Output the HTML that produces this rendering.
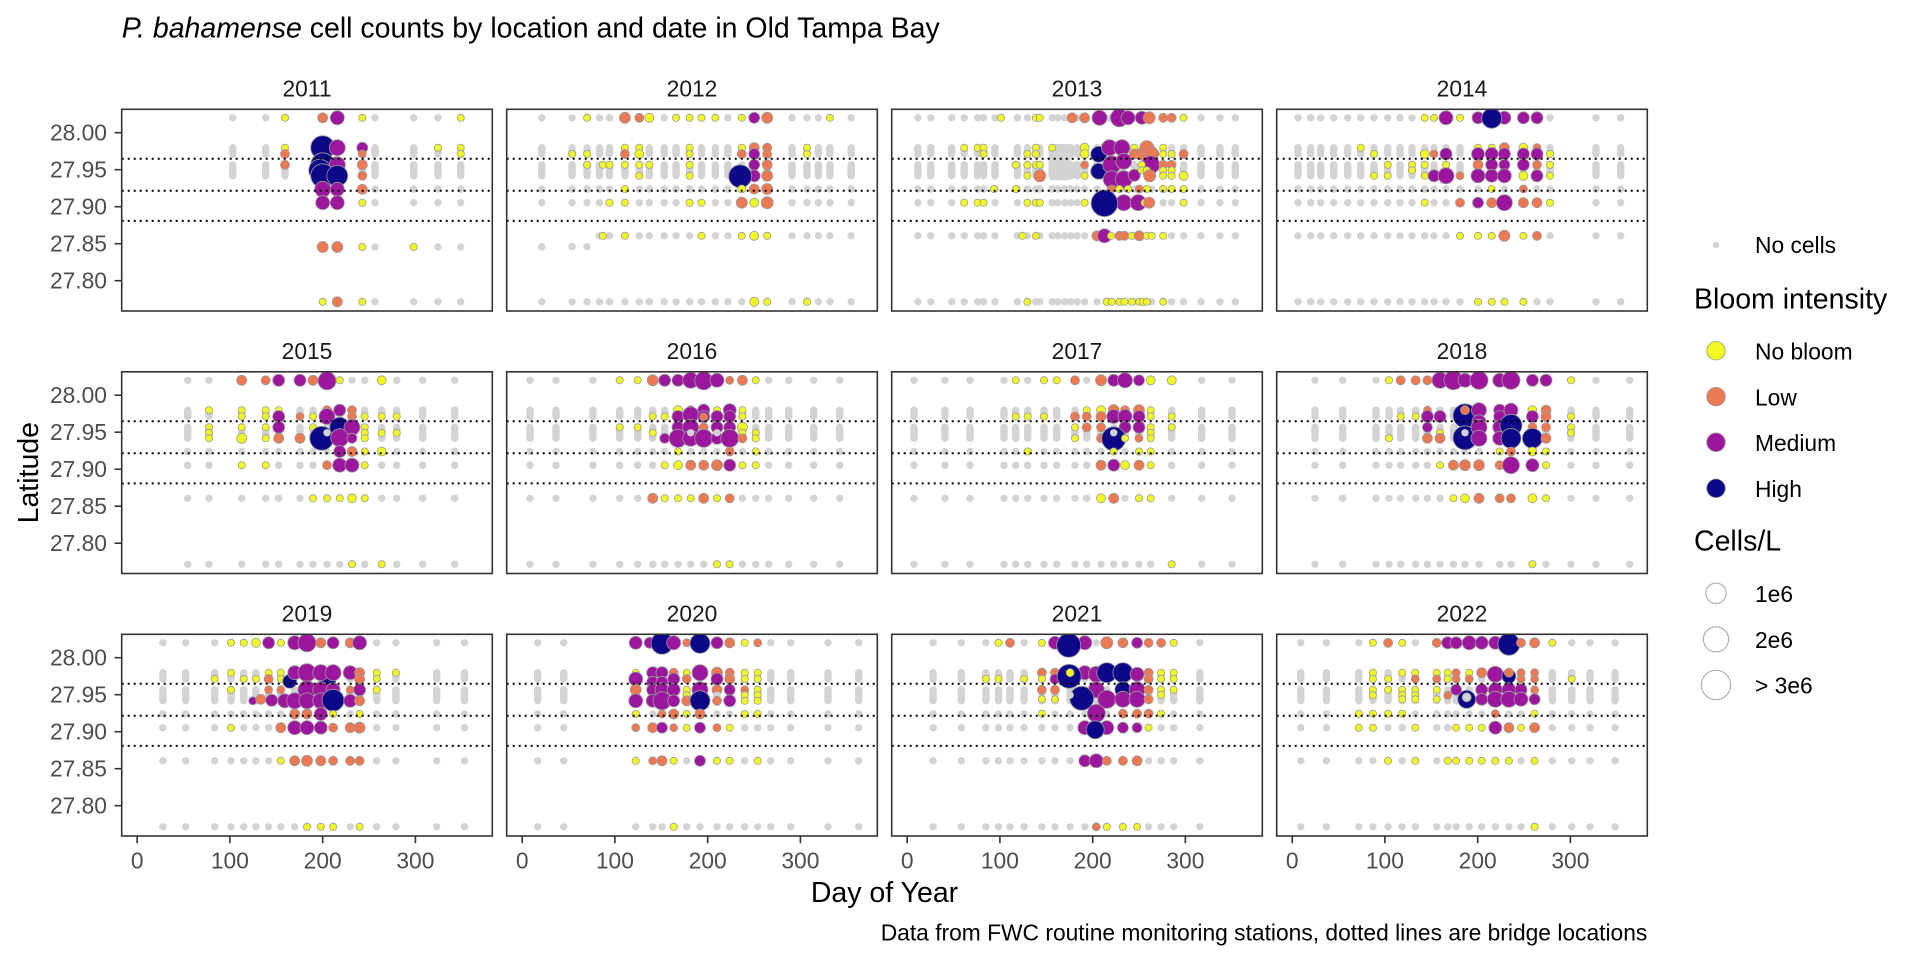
<!DOCTYPE html>
<html><head><meta charset="utf-8"><style>
html,body{margin:0;padding:0;background:#fff}
svg{display:block;font-family:"Liberation Sans",Arial,sans-serif}
.g{fill:#D3D3D3}
.y{fill:#F0F921;stroke:#9a9a9a;stroke-width:.8}
.o{fill:#ED7953;stroke:#9a9a9a;stroke-width:.8}
.m{fill:#9C179E;stroke:#9a9a9a;stroke-width:.8}
.n{fill:#0D0887;stroke:#9a9a9a;stroke-width:.8}
.d{stroke:#000;stroke-width:2;stroke-dasharray:2 4;fill:none}
.b{fill:none;stroke:#333;stroke-width:1.6}
.tk{stroke:#333;stroke-width:1.6}
.tl{fill:#4D4D4D;font-size:22.8px}
.st{fill:#1A1A1A;font-size:22.8px}
</style></head><body>
<svg width="1920" height="960" viewBox="0 0 1920 960" xmlns="http://www.w3.org/2000/svg">
<defs>
<clipPath id="cp"><rect x="0" y="0" width="370.6" height="201.7"/></clipPath>
<g id="GU" class="g"><circle cy="8.5" r="3.7"/><rect x="-3.7" y="34.7" width="7.4" height="13.7" rx="3.7"/><rect x="-3.7" y="51.8" width="7.4" height="18.4" rx="3.7"/></g>
<g id="GL" class="g"><circle cy="79.7" r="3.7"/><circle cy="93.4" r="3.7"/><circle cy="126.5" r="3.7"/><circle cy="192.5" r="3.7"/></g>
<g id="G"><use href="#GU"/><use href="#GL"/></g>
<g id="GL11" class="g"><circle cy="79.7" r="3.7"/><circle cy="93.4" r="3.7"/><circle cy="137.7" r="3.7"/><circle cy="192.5" r="3.7"/></g>
<g id="GL12" class="g"><circle cy="79.7" r="3.7"/><circle cy="93.4" r="3.7"/><circle cy="137.4" r="3.7"/><circle cy="192.5" r="3.7"/></g>
<g id="DL"><line class="d" x1="0" x2="370.6" y1="49.5" y2="49.5"/><line class="d" x1="0" x2="370.6" y1="81.4" y2="81.4"/><line class="d" x1="0" x2="370.6" y1="111.6" y2="111.6"/><rect class="b" x="0" y="0" width="370.6" height="201.7"/></g>
</defs>

<text x="121.7" y="37.3" font-size="28.5" fill="#000"><tspan font-style="italic">P. bahamense</tspan> cell counts by location and date in Old Tampa Bay</text>

<!-- strip labels -->
<g class="st" text-anchor="middle">
<text x="307" y="96.7">2011</text><text x="692" y="96.7">2012</text><text x="1077" y="96.7">2013</text><text x="1462" y="96.7">2014</text>
<text x="307" y="359.2">2015</text><text x="692" y="359.2">2016</text><text x="1077" y="359.2">2017</text><text x="1462" y="359.2">2018</text>
<text x="307" y="621.7">2019</text><text x="692" y="621.7">2020</text><text x="1077" y="621.7">2021</text><text x="1462" y="621.7">2022</text>
</g>

<!-- ===== 2011 ===== -->
<g transform="translate(121.7,109.3)" clip-path="url(#cp)">
<use href="#GU" x="111"/><use href="#GU" x="144"/><use href="#GU" x="163.3"/><use href="#GU" x="240.6"/><use href="#GU" x="253.3"/><use href="#GU" x="292"/><use href="#GU" x="316.3"/><use href="#GU" x="339"/>
<use href="#GL11" x="253.3"/><use href="#GL11" x="292"/><use href="#GL11" x="316.3"/><use href="#GL11" x="339"/>
<circle class="y" cx="163.3" cy="8.5" r="3.6"/><circle class="y" cx="163.3" cy="38.4" r="3.6"/><circle class="o" cx="163.3" cy="44.7" r="4.5"/><circle class="o" cx="163.3" cy="55.5" r="4.5"/>
<circle class="o" cx="201" cy="8.5" r="5"/><circle class="m" cx="215.6" cy="8.5" r="7"/>
<circle class="n" cx="201" cy="38.4" r="12"/><circle class="n" cx="201" cy="55.5" r="12"/><circle class="n" cx="198" cy="61" r="11"/>
<circle class="m" cx="215.6" cy="38.4" r="8"/><circle class="m" cx="215.6" cy="55.5" r="8"/>
<circle class="n" cx="201" cy="66.5" r="12"/><circle class="n" cx="215.6" cy="66.5" r="10.5"/>
<circle class="m" cx="201" cy="80" r="8"/><circle class="m" cx="215.6" cy="80" r="7"/><circle class="m" cx="201" cy="93.4" r="7"/><circle class="m" cx="215.6" cy="93.4" r="7"/>
<circle class="o" cx="201" cy="137.7" r="5.5"/><circle class="o" cx="215.6" cy="137.7" r="5.5"/><circle class="y" cx="201" cy="192.5" r="3.6"/><circle class="o" cx="215.6" cy="192.5" r="5"/>
<circle class="y" cx="240.6" cy="8.5" r="3.6"/><circle class="m" cx="240.6" cy="38.4" r="5.5"/><circle class="o" cx="240.6" cy="44.7" r="4"/><circle class="o" cx="240.6" cy="55.5" r="5"/><circle class="o" cx="240.6" cy="66.5" r="4.5"/><circle class="o" cx="240.6" cy="80" r="5"/><circle class="y" cx="240.6" cy="93.4" r="3.6"/><circle class="y" cx="240.6" cy="137.7" r="3.6"/><circle class="y" cx="240.6" cy="192.5" r="3.6"/>
<circle class="y" cx="292" cy="137.7" r="3.6"/><circle class="y" cx="316.3" cy="38.4" r="3.6"/>
<circle class="y" cx="339" cy="8.5" r="3.6"/><circle class="y" cx="339" cy="38.4" r="3.6"/><circle class="y" cx="339" cy="44.7" r="3.6"/>
</g>
<use href="#DL" x="121.7" y="109.3"/>

<!-- ===== 2012 ===== -->
<g transform="translate(506.7,109.3)" clip-path="url(#cp)">
<use href="#GU" x="35.1"/><use href="#GU" x="65.4"/><use href="#GU" x="80.4"/>
<use href="#GL12" x="35.1"/><use href="#GL12" x="65.4"/><use href="#GL12" x="80.4"/>
<use href="#G" x="92.8"/><use href="#G" x="102.8"/><use href="#G" x="118.2"/><use href="#G" x="132.6"/><use href="#G" x="142.6"/><use href="#G" x="157.5"/><use href="#G" x="169.4"/><use href="#G" x="182.9"/><use href="#G" x="194.8"/><use href="#G" x="208.7"/><use href="#G" x="221.2"/><use href="#G" x="235.1"/><use href="#G" x="247.5"/><use href="#G" x="260.5"/><use href="#G" x="285.3"/><use href="#G" x="300.3"/><use href="#G" x="311.7"/><use href="#G" x="323.2"/><use href="#G" x="344.5"/>
<circle class="y" cx="80.4" cy="8.5" r="3.6"/><circle class="o" cx="118.2" cy="8.5" r="5.5"/><circle class="o" cx="132.6" cy="8.5" r="4.5"/><circle class="y" cx="142.6" cy="8.5" r="4.5"/><circle class="y" cx="169.4" cy="8.5" r="3.6"/><circle class="y" cx="182.9" cy="8.5" r="3.6"/><circle class="y" cx="194.8" cy="8.5" r="3.6"/><circle class="y" cx="208.7" cy="8.5" r="3.6"/><circle class="y" cx="235.1" cy="8.5" r="3.6"/><circle class="m" cx="247.5" cy="8.5" r="5.5"/><circle class="o" cx="260.5" cy="8.5" r="5.5"/><circle class="y" cx="323.2" cy="8.5" r="3.6"/>
<circle class="y" cx="65.4" cy="44.7" r="3.6"/><circle class="y" cx="80.4" cy="44.7" r="3.6"/><circle class="y" cx="118.2" cy="38.4" r="3.6"/><circle class="o" cx="118.2" cy="44.7" r="4.5"/><circle class="y" cx="132.6" cy="38.4" r="3.6"/><circle class="y" cx="132.6" cy="44.7" r="4.5"/><circle class="y" cx="182.9" cy="38.4" r="3.6"/><circle class="y" cx="182.9" cy="44.7" r="3.6"/><circle class="y" cx="235.1" cy="38.4" r="3.6"/><circle class="o" cx="235.1" cy="44.7" r="4.5"/><circle class="o" cx="247.5" cy="38.4" r="5"/><circle class="m" cx="247.5" cy="44.7" r="5.5"/><circle class="o" cx="260.5" cy="38.4" r="4.5"/><circle class="o" cx="260.5" cy="44.7" r="4.5"/><circle class="y" cx="300.3" cy="38.4" r="3.6"/><circle class="y" cx="300.3" cy="44.7" r="3.6"/>
<circle class="y" cx="80.4" cy="55.5" r="3.6"/><circle class="y" cx="96.3" cy="55.5" r="3.6"/><circle class="y" cx="102.8" cy="55.5" r="3.6"/><circle class="y" cx="118.2" cy="55.5" r="3.6"/><circle class="y" cx="132.6" cy="55.5" r="3.6"/><circle class="y" cx="142.6" cy="55.5" r="3.6"/><circle class="y" cx="182.9" cy="55.5" r="3.6"/><circle class="y" cx="132.6" cy="66.5" r="3.6"/><circle class="y" cx="182.9" cy="66.5" r="3.6"/>
<circle class="m" cx="247.5" cy="55.5" r="5.5"/><circle class="m" cx="247.5" cy="66.5" r="6"/><circle class="o" cx="260.5" cy="55.5" r="5"/><circle class="o" cx="260.5" cy="66.5" r="5.5"/>
<circle class="n" cx="233.5" cy="67" r="11.5"/>
<circle class="y" cx="118.2" cy="79.7" r="3.6"/><circle class="y" cx="235.1" cy="79.7" r="4"/><circle class="o" cx="247.5" cy="79.7" r="5"/><circle class="o" cx="260.5" cy="79.7" r="5.5"/>
<circle class="y" cx="102.8" cy="93.4" r="3.6"/><circle class="y" cx="118.2" cy="93.4" r="3.6"/><circle class="y" cx="182.9" cy="93.4" r="3.6"/><circle class="y" cx="194.8" cy="93.4" r="3.6"/><circle class="o" cx="235.1" cy="93.4" r="5.5"/><circle class="y" cx="247.5" cy="93.4" r="4.5"/><circle class="o" cx="260.5" cy="93.4" r="6"/>
<circle class="y" cx="96.3" cy="126.5" r="3.6"/><circle class="y" cx="118.2" cy="126.5" r="3.6"/><circle class="y" cx="194.8" cy="126.5" r="3.6"/><circle class="y" cx="235.1" cy="126.5" r="3.6"/><circle class="y" cx="247.5" cy="126.5" r="4.5"/><circle class="y" cx="260.5" cy="126.5" r="3.6"/>
<circle class="y" cx="247.5" cy="192.5" r="4.5"/><circle class="y" cx="260.5" cy="192.5" r="3.6"/><circle class="y" cx="300.3" cy="192.5" r="3.6"/>
</g>
<use href="#DL" x="506.7" y="109.3"/>

<!-- ===== 2013 ===== -->
<g transform="translate(891.7,109.3)" clip-path="url(#cp)">
<use href="#G" x="26.2"/><use href="#G" x="39.1"/><use href="#G" x="60"/><use href="#G" x="72.5"/><use href="#G" x="85.9"/><use href="#G" x="91.9"/><use href="#G" x="103.3"/><use href="#G" x="125.7"/><use href="#G" x="135.7"/><use href="#G" x="144.1"/><use href="#G" x="148.1"/><use href="#G" x="160.5"/><use href="#G" x="166"/><use href="#G" x="173"/><use href="#G" x="179"/><use href="#G" x="185.4"/><use href="#G" x="192.9"/><use href="#G" x="205.3"/><use href="#G" x="217.8"/><use href="#G" x="230.2"/><use href="#G" x="242.6"/><use href="#G" x="255.1"/><use href="#G" x="260"/><use href="#G" x="271.5"/><use href="#G" x="279.9"/><use href="#G" x="291.9"/><use href="#G" x="309.3"/><use href="#G" x="328.2"/><use href="#G" x="343.6"/>
<rect class="g" x="157" y="34.7" width="22" height="36.3" rx="3.7"/>
<circle class="y" cx="109.3" cy="8.5" r="3.6"/><circle class="y" cx="144.1" cy="8.5" r="3.6"/><circle class="y" cx="148.1" cy="8.5" r="3.6"/><circle class="o" cx="180.4" cy="8.5" r="5"/><circle class="o" cx="192.9" cy="8.5" r="5"/><circle class="m" cx="207.8" cy="8.5" r="7.5"/><circle class="m" cx="227.7" cy="8.5" r="9"/><circle class="m" cx="236.3" cy="8.5" r="7"/><circle class="m" cx="250.1" cy="8.5" r="6.5"/><circle class="o" cx="257.5" cy="8.5" r="6"/><circle class="o" cx="271.5" cy="8.5" r="4.5"/><circle class="o" cx="279.9" cy="8.5" r="4.5"/><circle class="y" cx="291.9" cy="8.5" r="3.6"/>
<circle class="y" cx="72.5" cy="38.4" r="3.6"/><circle class="y" cx="85.9" cy="38.4" r="3.6"/><circle class="y" cx="91.9" cy="38.4" r="3.6"/><circle class="y" cx="91.9" cy="44.7" r="3.6"/><circle class="y" cx="144.1" cy="38.4" r="3.6"/><circle class="y" cx="135.7" cy="44.7" r="3.6"/><circle class="y" cx="144.1" cy="44.7" r="3.6"/><circle class="y" cx="160.5" cy="38.4" r="3.6"/><circle class="y" cx="192.9" cy="38.4" r="4.5"/><circle class="y" cx="192.9" cy="44.7" r="4.5"/>
<circle class="y" cx="124" cy="55.5" r="3.6"/><circle class="y" cx="135.7" cy="55.5" r="3.6"/><circle class="y" cx="144.1" cy="55.5" r="3.6"/><circle class="y" cx="148.1" cy="55.5" r="3.6"/><circle class="y" cx="135.7" cy="66.5" r="3.6"/><circle class="o" cx="148.1" cy="66.5" r="6"/><circle class="o" cx="192.9" cy="55.5" r="4"/><circle class="y" cx="192.9" cy="66.5" r="3.6"/>
<circle class="n" cx="207" cy="45" r="8"/><circle class="n" cx="207" cy="62" r="8"/>
<circle class="m" cx="217.8" cy="38.4" r="8"/><circle class="m" cx="230.2" cy="38.4" r="8"/><circle class="m" cx="220" cy="55.5" r="9"/><circle class="m" cx="232" cy="52" r="8"/><circle class="m" cx="220" cy="70" r="8.5"/><circle class="m" cx="232" cy="70" r="8.5"/><circle class="m" cx="242.6" cy="66" r="6"/>
<circle class="y" cx="242.6" cy="38.4" r="3.6"/><circle class="o" cx="242.6" cy="44.7" r="5"/><circle class="o" cx="250" cy="44.7" r="6"/><circle class="o" cx="255.1" cy="38.4" r="7"/><circle class="o" cx="260" cy="44.7" r="7"/><circle class="m" cx="259" cy="55.5" r="9"/><circle class="y" cx="250" cy="55.5" r="3.6"/><circle class="y" cx="250" cy="61" r="3.6"/><circle class="y" cx="255" cy="61" r="3.6"/><circle class="o" cx="258" cy="66.5" r="6"/>
<circle class="y" cx="271.5" cy="38.4" r="3.6"/><circle class="y" cx="271.5" cy="44.7" r="3.6"/><circle class="y" cx="279.9" cy="44.7" r="3.6"/><circle class="o" cx="291.9" cy="44.7" r="4.5"/>
<circle class="o" cx="271.5" cy="55.5" r="4.5"/><circle class="y" cx="271.5" cy="61" r="3.6"/><circle class="y" cx="271.5" cy="66.5" r="3.6"/><circle class="o" cx="279.9" cy="55.5" r="4.5"/><circle class="y" cx="279.9" cy="61" r="3.6"/><circle class="y" cx="279.9" cy="66.5" r="3.6"/><circle class="y" cx="291.9" cy="66.5" r="4.5"/>
<circle class="y" cx="102.3" cy="79.7" r="3.6"/><circle class="y" cx="124.2" cy="79.7" r="3.6"/><circle class="o" cx="220" cy="79.7" r="4"/><circle class="y" cx="227.7" cy="79.7" r="3.6"/><circle class="y" cx="236.3" cy="79.7" r="3.6"/><circle class="o" cx="247.5" cy="79.7" r="4"/><circle class="y" cx="255.1" cy="79.7" r="3.6"/><circle class="y" cx="271.5" cy="79.7" r="3.6"/><circle class="y" cx="279.9" cy="79.7" r="3.6"/><circle class="y" cx="291.9" cy="79.7" r="3.6"/>
<circle class="y" cx="72.5" cy="93.4" r="3.6"/><circle class="y" cx="85.9" cy="93.4" r="3.6"/><circle class="y" cx="91.9" cy="93.4" r="3.6"/><circle class="y" cx="135.7" cy="93.4" r="3.6"/><circle class="y" cx="144.1" cy="93.4" r="3.6"/><circle class="y" cx="148.1" cy="93.4" r="3.6"/><circle class="y" cx="192.9" cy="93.4" r="3.6"/>
<circle class="m" cx="232" cy="93.4" r="8"/><circle class="m" cx="246.5" cy="93.4" r="8"/><circle class="y" cx="253" cy="93.4" r="3.6"/><circle class="o" cx="257.5" cy="93.4" r="5.5"/><circle class="y" cx="291.9" cy="93.4" r="3.6"/>
<circle class="n" cx="212.7" cy="94" r="13.3"/>
<circle class="y" cx="130.7" cy="126.5" r="3.6"/><circle class="y" cx="144.1" cy="126.5" r="3.6"/><circle class="o" cx="205.3" cy="126.5" r="5"/><circle class="m" cx="212.8" cy="126.5" r="7"/><circle class="y" cx="219.3" cy="126.5" r="3.6"/><circle class="o" cx="227.7" cy="126.5" r="4.5"/><circle class="o" cx="232.7" cy="126.5" r="4.5"/><circle class="y" cx="240.1" cy="126.5" r="3.6"/><circle class="o" cx="247.6" cy="126.5" r="5"/><circle class="y" cx="255.1" cy="126.5" r="3.6"/><circle class="y" cx="260" cy="126.5" r="3.6"/><circle class="y" cx="271.5" cy="126.5" r="3.6"/>
<circle class="y" cx="135.7" cy="192.5" r="3.6"/><circle class="y" cx="215" cy="192.5" r="3.6"/><circle class="y" cx="220" cy="192.5" r="3.6"/><circle class="y" cx="227.7" cy="192.5" r="3.6"/><circle class="y" cx="232.7" cy="192.5" r="3.6"/><circle class="y" cx="240.1" cy="192.5" r="3.6"/><circle class="y" cx="247.6" cy="192.5" r="3.6"/><circle class="y" cx="251" cy="192.5" r="3.6"/><circle class="y" cx="255.1" cy="192.5" r="3.6"/><circle class="y" cx="271.5" cy="192.5" r="3.6"/>
</g>
<use href="#DL" x="891.7" y="109.3"/>

<!-- ===== 2014 ===== -->
<g transform="translate(1276.7,109.3)" clip-path="url(#cp)">
<use href="#G" x="21.3"/><use href="#G" x="34"/><use href="#G" x="44"/><use href="#G" x="57"/><use href="#G" x="71"/><use href="#G" x="84"/><use href="#G" x="97.3"/><use href="#G" x="111"/><use href="#G" x="123.3"/><use href="#G" x="135.3"/><use href="#G" x="148"/><use href="#G" x="157.3"/><use href="#G" x="169.3"/><use href="#G" x="183.3"/><use href="#G" x="201.3"/><use href="#G" x="215"/><use href="#G" x="227.7"/><use href="#G" x="246.7"/><use href="#G" x="260.3"/><use href="#G" x="273.3"/><use href="#G" x="319.3"/><use href="#G" x="344"/>
<circle class="y" cx="148" cy="8.5" r="3.6"/><circle class="y" cx="157.3" cy="8.5" r="3.6"/><circle class="m" cx="169.3" cy="8.5" r="7"/><circle class="y" cx="183.3" cy="8.5" r="3.6"/><circle class="m" cx="201.3" cy="8.5" r="6"/><circle class="m" cx="227.7" cy="8.5" r="6.5"/><circle class="n" cx="215" cy="9" r="10"/><circle class="m" cx="246.7" cy="8.5" r="6"/><circle class="m" cx="260.3" cy="8.5" r="6"/>
<circle class="y" cx="84" cy="38.4" r="3.6"/><circle class="y" cx="97.3" cy="44.7" r="3.6"/><circle class="y" cx="148" cy="44.7" r="4.5"/><circle class="o" cx="157.3" cy="44.7" r="4"/><circle class="m" cx="169.3" cy="44.7" r="6"/><circle class="y" cx="201.3" cy="38.4" r="3.6"/><circle class="m" cx="201.3" cy="44.7" r="6.5"/><circle class="y" cx="215" cy="38.4" r="3.6"/><circle class="m" cx="215" cy="44.7" r="6.5"/><circle class="o" cx="227.7" cy="38.4" r="5"/><circle class="m" cx="227.7" cy="44.7" r="6"/><circle class="y" cx="246.7" cy="38.4" r="4.5"/><circle class="m" cx="246.7" cy="44.7" r="6"/><circle class="o" cx="260.3" cy="38.4" r="4"/><circle class="m" cx="260.3" cy="44.7" r="6"/><circle class="y" cx="273.3" cy="44.7" r="3.6"/>
<circle class="y" cx="97.3" cy="66.5" r="3.6"/><circle class="y" cx="111" cy="55.5" r="3.6"/><circle class="y" cx="111" cy="66.5" r="3.6"/><circle class="y" cx="135.3" cy="55.5" r="3.6"/><circle class="y" cx="135.3" cy="61" r="3.6"/><circle class="y" cx="148" cy="55.5" r="3.6"/><circle class="y" cx="148" cy="66.5" r="3.6"/><circle class="m" cx="157.3" cy="66.5" r="6"/><circle class="y" cx="169.3" cy="55.5" r="3.6"/><circle class="m" cx="169.3" cy="66.5" r="8"/><circle class="o" cx="183.3" cy="66.5" r="4"/><circle class="o" cx="201.3" cy="55.5" r="5"/><circle class="m" cx="201.3" cy="66.5" r="7"/><circle class="m" cx="215" cy="55.5" r="6"/><circle class="m" cx="215" cy="66.5" r="6.5"/><circle class="m" cx="227.7" cy="55.5" r="5.5"/><circle class="m" cx="227.7" cy="66.5" r="7"/><circle class="m" cx="246.7" cy="55.5" r="6"/><circle class="y" cx="246.7" cy="66.5" r="4.5"/><circle class="o" cx="260.3" cy="55.5" r="4.5"/><circle class="m" cx="260.3" cy="66.5" r="6"/><circle class="y" cx="273.3" cy="55.5" r="3.6"/><circle class="y" cx="273.3" cy="66.5" r="3.6"/>
<circle class="y" cx="215" cy="79.7" r="3.6"/><circle class="o" cx="246.7" cy="79.7" r="4"/>
<circle class="y" cx="148" cy="93.4" r="3.6"/><circle class="o" cx="183.3" cy="93.4" r="4.5"/><circle class="m" cx="201.3" cy="93.4" r="5.5"/><circle class="o" cx="215" cy="93.4" r="5"/><circle class="m" cx="227.7" cy="93.4" r="8"/><circle class="o" cx="246.7" cy="93.4" r="5"/><circle class="o" cx="260.3" cy="93.4" r="5"/><circle class="y" cx="273.3" cy="93.4" r="3.6"/>
<circle class="y" cx="183.3" cy="126.5" r="3.6"/><circle class="y" cx="201.3" cy="126.5" r="3.6"/><circle class="y" cx="215" cy="126.5" r="3.6"/><circle class="o" cx="227.7" cy="126.5" r="5.5"/><circle class="y" cx="246.7" cy="126.5" r="3.6"/><circle class="o" cx="260.3" cy="126.5" r="4.5"/>
<circle class="y" cx="201.3" cy="192.5" r="3.6"/><circle class="y" cx="215" cy="192.5" r="3.6"/><circle class="y" cx="227.7" cy="192.5" r="3.6"/><circle class="y" cx="246.7" cy="192.5" r="3.6"/>
</g>
<use href="#DL" x="1276.7" y="109.3"/>

<!-- ===== 2015 ===== -->
<g transform="translate(121.7,371.8)" clip-path="url(#cp)">
<use href="#G" x="66"/><use href="#G" x="87.3"/><use href="#G" x="120"/><use href="#G" x="144"/><use href="#G" x="157"/><use href="#G" x="178.3"/><use href="#G" x="191.3"/><use href="#G" x="205.3"/><use href="#G" x="218"/><use href="#G" x="230.3"/><use href="#G" x="243"/><use href="#G" x="260"/><use href="#G" x="275"/><use href="#G" x="301"/><use href="#G" x="333"/>
<circle class="o" cx="120" cy="8.5" r="5"/><circle class="o" cx="144" cy="8.5" r="4.5"/><circle class="m" cx="157" cy="8.5" r="6"/><circle class="m" cx="178.3" cy="8.5" r="6"/><circle class="o" cx="191.3" cy="8.5" r="5"/><circle class="m" cx="205.3" cy="9" r="9"/><circle class="y" cx="218" cy="8.5" r="3.6"/><circle class="y" cx="260" cy="8.5" r="4.5"/>
<circle class="y" cx="87.3" cy="38.4" r="3.6"/><circle class="y" cx="120" cy="38.4" r="3.6"/><circle class="y" cx="120" cy="44.7" r="3.6"/><circle class="y" cx="144" cy="38.4" r="3.6"/><circle class="y" cx="144" cy="44.7" r="3.6"/><circle class="y" cx="157" cy="38.4" r="3.6"/><circle class="m" cx="157" cy="44.7" r="6"/><circle class="o" cx="178.3" cy="44.7" r="4"/><circle class="y" cx="191.3" cy="44.7" r="3.6"/><circle class="o" cx="205.3" cy="38.4" r="4.5"/><circle class="m" cx="205.3" cy="44.7" r="8"/><circle class="m" cx="218" cy="38.4" r="6"/><circle class="o" cx="230.3" cy="38.4" r="4.5"/><circle class="o" cx="230.3" cy="44.7" r="4.5"/><circle class="y" cx="243" cy="44.7" r="3.6"/><circle class="y" cx="260" cy="44.7" r="3.6"/><circle class="y" cx="275" cy="44.7" r="3.6"/>
<circle class="y" cx="87.3" cy="55.5" r="3.6"/><circle class="y" cx="87.3" cy="61" r="3.6"/><circle class="y" cx="87.3" cy="66.5" r="3.6"/><circle class="y" cx="120" cy="55.5" r="3.6"/><circle class="y" cx="120" cy="66.5" r="5"/><circle class="y" cx="144" cy="55.5" r="3.6"/><circle class="y" cx="144" cy="66.5" r="3.6"/><circle class="m" cx="157" cy="55.5" r="6"/><circle class="o" cx="157" cy="66.5" r="5"/><circle class="o" cx="178.3" cy="66.5" r="5"/><circle class="y" cx="191.3" cy="55.5" r="3.6"/>
<circle class="n" cx="200" cy="66.5" r="12"/><circle class="g" cx="205.3" cy="61" r="3.7"/><circle class="n" cx="218" cy="55.5" r="10"/><circle class="m" cx="230.3" cy="55.5" r="8"/><circle class="m" cx="218" cy="66" r="9"/><circle class="m" cx="230.3" cy="66.5" r="5"/>
<circle class="y" cx="243" cy="55.5" r="3.6"/><circle class="y" cx="243" cy="61" r="3.6"/><circle class="y" cx="243" cy="66.5" r="3.6"/><circle class="y" cx="260" cy="61" r="3.6"/><circle class="y" cx="275" cy="61" r="3.6"/>
<circle class="m" cx="218" cy="79.7" r="6"/><circle class="o" cx="230.3" cy="79.7" r="5"/><circle class="y" cx="243" cy="79.7" r="3.6"/><circle class="y" cx="260" cy="79.7" r="4.5"/>
<circle class="y" cx="120" cy="93.4" r="3.6"/><circle class="y" cx="144" cy="93.4" r="3.6"/><circle class="o" cx="205.3" cy="93.4" r="4.5"/><circle class="m" cx="218" cy="93.4" r="7"/><circle class="m" cx="230.3" cy="93.4" r="7"/><circle class="y" cx="243" cy="93.4" r="3.6"/>
<circle class="y" cx="191.3" cy="126.5" r="3.6"/><circle class="y" cx="205.3" cy="126.5" r="3.6"/><circle class="y" cx="218" cy="126.5" r="3.6"/><circle class="y" cx="230.3" cy="126.5" r="4.5"/><circle class="y" cx="243" cy="126.5" r="3.6"/>
<circle class="y" cx="230.3" cy="192.5" r="3.6"/><circle class="y" cx="260" cy="192.5" r="3.6"/>
</g>
<use href="#DL" x="121.7" y="371.8"/>

<!-- ===== 2016 ===== -->
<g transform="translate(506.7,371.8)" clip-path="url(#cp)">
<use href="#G" x="23.3"/><use href="#G" x="49.3"/><use href="#G" x="86.3"/><use href="#G" x="113"/><use href="#G" x="131"/><use href="#G" x="146"/><use href="#G" x="158"/><use href="#G" x="171.3"/><use href="#G" x="184"/><use href="#G" x="197"/><use href="#G" x="210.3"/><use href="#G" x="223"/><use href="#G" x="235.7"/><use href="#G" x="249"/><use href="#G" x="262"/><use href="#G" x="282"/><use href="#G" x="307"/><use href="#G" x="333"/>
<circle class="y" cx="113" cy="8.5" r="3.6"/><circle class="y" cx="131" cy="8.5" r="3.6"/><circle class="o" cx="146" cy="8.5" r="5.5"/><circle class="m" cx="158" cy="8.5" r="6"/><circle class="m" cx="171.3" cy="8.5" r="6"/><circle class="m" cx="184" cy="8.5" r="8"/><circle class="m" cx="197" cy="9" r="9"/><circle class="m" cx="210.3" cy="8.5" r="7"/><circle class="o" cx="223" cy="8.5" r="4"/><circle class="o" cx="235.7" cy="8.5" r="5"/><circle class="y" cx="249" cy="8.5" r="3.6"/>
<circle class="y" cx="146" cy="44.7" r="3.6"/><circle class="y" cx="158" cy="44.7" r="3.6"/><circle class="y" cx="171.3" cy="38.4" r="4.5"/><circle class="o" cx="184" cy="38.4" r="4.5"/><circle class="m" cx="197" cy="38.4" r="6"/><circle class="y" cx="210.3" cy="38.4" r="3.6"/><circle class="m" cx="223" cy="38.4" r="6.5"/><circle class="y" cx="235.7" cy="38.4" r="3.6"/><circle class="y" cx="235.7" cy="44.7" r="3.6"/>
<circle class="m" cx="171.3" cy="44.7" r="6"/><circle class="m" cx="184" cy="43" r="8"/><circle class="m" cx="197" cy="44.7" r="6"/><circle class="o" cx="197" cy="45" r="4"/><circle class="m" cx="210.3" cy="44.7" r="6"/><circle class="m" cx="223" cy="44.7" r="6"/>
<circle class="y" cx="113" cy="55.5" r="3.6"/><circle class="y" cx="131" cy="55.5" r="3.6"/><circle class="y" cx="146" cy="61" r="3.6"/>
<circle class="m" cx="171.3" cy="55.5" r="6"/><circle class="m" cx="184" cy="55.5" r="8"/><circle class="m" cx="210.3" cy="55.5" r="6"/><circle class="m" cx="223" cy="55.5" r="6"/><circle class="o" cx="197" cy="55.5" r="4.5"/>
<circle class="m" cx="158" cy="66.5" r="5"/><circle class="m" cx="171.3" cy="66.5" r="9"/><circle class="m" cx="184" cy="66.5" r="8"/><circle class="m" cx="197" cy="66.5" r="9"/><circle class="m" cx="210.3" cy="66.5" r="6"/><circle class="m" cx="223" cy="66.5" r="9"/>
<circle class="g" cx="184" cy="61" r="3.7"/><circle class="g" cx="210.3" cy="61" r="3.7"/>
<circle class="y" cx="235.7" cy="55.5" r="5"/><circle class="y" cx="235.7" cy="61" r="3.6"/><circle class="o" cx="235.7" cy="66.5" r="4.5"/><circle class="y" cx="249" cy="61" r="3.6"/><circle class="y" cx="249" cy="66.5" r="3.6"/>
<circle class="y" cx="171.3" cy="79.7" r="3.6"/><circle class="o" cx="223" cy="79.7" r="4.5"/><circle class="y" cx="249" cy="79.7" r="3.6"/>
<circle class="y" cx="158" cy="93.4" r="3.6"/><circle class="y" cx="171.3" cy="93.4" r="4.5"/><circle class="o" cx="184" cy="93.4" r="5"/><circle class="o" cx="197" cy="93.4" r="5"/><circle class="o" cx="210.3" cy="93.4" r="5.5"/><circle class="m" cx="223" cy="93.4" r="6"/><circle class="y" cx="235.7" cy="93.4" r="3.6"/><circle class="y" cx="249" cy="93.4" r="3.6"/>
<circle class="o" cx="146" cy="126.5" r="5"/><circle class="y" cx="158" cy="126.5" r="3.6"/><circle class="y" cx="171.3" cy="126.5" r="3.6"/><circle class="y" cx="184" cy="126.5" r="3.6"/><circle class="o" cx="197" cy="126.5" r="5"/><circle class="y" cx="210.3" cy="126.5" r="3.6"/><circle class="o" cx="223" cy="126.5" r="4.5"/>
<circle class="y" cx="210.3" cy="192.5" r="3.6"/><circle class="y" cx="223" cy="192.5" r="3.6"/>
</g>
<use href="#DL" x="506.7" y="371.8"/>

<!-- ===== 2017 ===== -->
<g transform="translate(891.7,371.8)" clip-path="url(#cp)">
<use href="#G" x="22.3"/><use href="#G" x="53.3"/><use href="#G" x="78.3"/><use href="#G" x="112.3"/><use href="#G" x="124"/><use href="#G" x="136"/><use href="#G" x="152.3"/><use href="#G" x="165"/><use href="#G" x="183.3"/><use href="#G" x="195"/><use href="#G" x="209.3"/><use href="#G" x="222"/><use href="#G" x="233.3"/><use href="#G" x="247.3"/><use href="#G" x="259"/><use href="#G" x="280"/><use href="#G" x="310"/><use href="#G" x="340.3"/>
<circle class="y" cx="124" cy="8.5" r="3.6"/><circle class="y" cx="152.3" cy="8.5" r="3.6"/><circle class="y" cx="165" cy="8.5" r="3.6"/><circle class="o" cx="183.3" cy="8.5" r="4.5"/><circle class="o" cx="209.3" cy="8.5" r="5.5"/><circle class="m" cx="222" cy="8.5" r="6"/><circle class="m" cx="233.3" cy="8.5" r="7.5"/><circle class="m" cx="247.3" cy="8.5" r="5.5"/><circle class="y" cx="259" cy="8.5" r="4.5"/><circle class="y" cx="280" cy="8.5" r="4.5"/>
<circle class="y" cx="124" cy="44.7" r="3.6"/><circle class="y" cx="136" cy="44.7" r="3.6"/><circle class="y" cx="152.3" cy="44.7" r="3.6"/><circle class="o" cx="183.3" cy="44.7" r="4.5"/><circle class="y" cx="195" cy="38.4" r="3.6"/><circle class="o" cx="195" cy="44.7" r="4.5"/><circle class="y" cx="209.3" cy="38.4" r="4.5"/><circle class="o" cx="209.3" cy="44.7" r="5"/><circle class="o" cx="222" cy="38.4" r="5.5"/><circle class="m" cx="222" cy="44.7" r="7"/><circle class="o" cx="233.3" cy="38.4" r="4.5"/><circle class="m" cx="233.3" cy="44.7" r="7"/><circle class="o" cx="247.3" cy="38.4" r="5.5"/><circle class="m" cx="247.3" cy="44.7" r="6"/><circle class="y" cx="259" cy="38.4" r="3.6"/><circle class="y" cx="259" cy="44.7" r="3.6"/><circle class="y" cx="280" cy="44.7" r="3.6"/>
<circle class="y" cx="183.3" cy="55.5" r="3.6"/><circle class="y" cx="183.3" cy="66.5" r="3.6"/><circle class="o" cx="195" cy="55.5" r="4.5"/><circle class="o" cx="209.3" cy="55.5" r="4.5"/><circle class="o" cx="209.3" cy="66.5" r="4.5"/><circle class="m" cx="233.3" cy="55.5" r="6"/><circle class="m" cx="247.3" cy="55.5" r="6"/><circle class="o" cx="247.3" cy="66.5" r="4"/>
<circle class="n" cx="222" cy="67" r="12"/><circle class="g" cx="222" cy="61" r="3.7"/><circle class="y" cx="233.3" cy="66.5" r="3.6"/>
<circle class="y" cx="259" cy="55.5" r="3.6"/><circle class="y" cx="259" cy="61" r="3.6"/><circle class="y" cx="259" cy="66.5" r="3.6"/><circle class="y" cx="280" cy="55.5" r="3.6"/>
<circle class="y" cx="136" cy="79.7" r="3.6"/><circle class="y" cx="222" cy="79.7" r="3.6"/><circle class="y" cx="247.3" cy="79.7" r="3.6"/><circle class="y" cx="259" cy="79.7" r="3.6"/>
<circle class="o" cx="209.3" cy="93.4" r="5"/><circle class="m" cx="222" cy="93.4" r="6"/><circle class="y" cx="233.3" cy="93.4" r="4.5"/><circle class="o" cx="247.3" cy="93.4" r="5"/><circle class="y" cx="259" cy="93.4" r="3.6"/>
<circle class="y" cx="209.3" cy="126.5" r="4.5"/><circle class="o" cx="222" cy="126.5" r="5"/><circle class="y" cx="247.3" cy="126.5" r="3.6"/><circle class="y" cx="259" cy="126.5" r="3.6"/>
<circle class="y" cx="280" cy="192.5" r="3.6"/>
</g>
<use href="#DL" x="891.7" y="371.8"/>

<!-- ===== 2018 ===== -->
<g transform="translate(1276.7,371.8)" clip-path="url(#cp)">
<use href="#G" x="38.3"/><use href="#G" x="66"/><use href="#G" x="99.3"/><use href="#G" x="112.3"/><use href="#G" x="124"/><use href="#G" x="139"/><use href="#G" x="150.7"/><use href="#G" x="163.3"/><use href="#G" x="176.7"/><use href="#G" x="188.3"/><use href="#G" x="202.3"/><use href="#G" x="223"/><use href="#G" x="234.3"/><use href="#G" x="255.7"/><use href="#G" x="269.3"/><use href="#G" x="294.3"/><use href="#G" x="319.3"/><use href="#G" x="353"/>
<circle class="y" cx="112.3" cy="8.5" r="3.6"/><circle class="o" cx="124" cy="8.5" r="4.5"/><circle class="o" cx="139" cy="8.5" r="4.5"/><circle class="o" cx="150.7" cy="8.5" r="4.5"/><circle class="m" cx="163.3" cy="8.5" r="8"/><circle class="m" cx="176.7" cy="8.5" r="9.5"/><circle class="m" cx="188.3" cy="8.5" r="7"/><circle class="m" cx="202.3" cy="8.5" r="9"/><circle class="m" cx="223" cy="8.5" r="7"/><circle class="m" cx="234.3" cy="8.5" r="9"/><circle class="m" cx="255.7" cy="8.5" r="6"/><circle class="m" cx="269.3" cy="8.5" r="6"/><circle class="y" cx="294.3" cy="8.5" r="3.6"/>
<circle class="y" cx="124" cy="44.7" r="3.6"/><circle class="y" cx="139" cy="44.7" r="3.6"/><circle class="o" cx="150.7" cy="38.4" r="4"/><circle class="m" cx="150.7" cy="44.7" r="6"/><circle class="m" cx="163.3" cy="44.7" r="6"/>
<circle class="n" cx="188.3" cy="44" r="12"/><circle class="o" cx="188.3" cy="38.4" r="4.5"/><circle class="m" cx="202.3" cy="38.4" r="7.5"/><circle class="m" cx="223" cy="38.4" r="6"/><circle class="m" cx="223" cy="44.7" r="6"/><circle class="m" cx="234.3" cy="38.4" r="7"/><circle class="y" cx="255.7" cy="38.4" r="4.5"/><circle class="m" cx="255.7" cy="44.7" r="6"/><circle class="o" cx="269.3" cy="38.4" r="5"/><circle class="o" cx="269.3" cy="44.7" r="5"/><circle class="y" cx="294.3" cy="44.7" r="3.6"/>
<circle class="y" cx="112.3" cy="66.5" r="3.6"/><circle class="m" cx="150.7" cy="55.5" r="5"/><circle class="o" cx="150.7" cy="66.5" r="5"/><circle class="y" cx="163.3" cy="61" r="3.6"/><circle class="o" cx="163.3" cy="66.5" r="5"/>
<circle class="n" cx="188.3" cy="66" r="12"/><circle class="g" cx="188.3" cy="61" r="3.7"/><circle class="m" cx="202.3" cy="50" r="7"/><circle class="m" cx="202.3" cy="55.5" r="8"/><circle class="m" cx="202.3" cy="66.5" r="8"/><circle class="m" cx="223" cy="55.5" r="7"/><circle class="m" cx="223" cy="66.5" r="7"/>
<circle class="n" cx="234.3" cy="53.5" r="11"/><circle class="n" cx="234.3" cy="66.5" r="10"/><circle class="o" cx="255.7" cy="55.5" r="4.5"/><circle class="n" cx="255.7" cy="66.5" r="10"/><circle class="o" cx="269.3" cy="55.5" r="4.5"/><circle class="o" cx="269.3" cy="66.5" r="5"/><circle class="y" cx="294.3" cy="55.5" r="3.6"/><circle class="y" cx="294.3" cy="61" r="3.6"/>
<circle class="y" cx="223" cy="79.7" r="3.6"/><circle class="o" cx="234.3" cy="79.7" r="4.5"/><circle class="y" cx="255.7" cy="79.7" r="4.5"/><circle class="y" cx="269.3" cy="79.7" r="3.6"/>
<circle class="y" cx="163.3" cy="93.4" r="3.6"/><circle class="o" cx="176.7" cy="93.4" r="5"/><circle class="o" cx="188.3" cy="93.4" r="5.5"/><circle class="o" cx="202.3" cy="93.4" r="5.5"/><circle class="o" cx="223" cy="93.4" r="4.5"/><circle class="m" cx="234.3" cy="93.4" r="8.5"/><circle class="m" cx="255.7" cy="93.4" r="6.5"/><circle class="y" cx="269.3" cy="93.4" r="3.6"/>
<circle class="y" cx="176.7" cy="126.5" r="3.6"/><circle class="y" cx="188.3" cy="126.5" r="4.5"/><circle class="o" cx="202.3" cy="126.5" r="5"/><circle class="o" cx="223" cy="126.5" r="4.5"/><circle class="o" cx="234.3" cy="126.5" r="4.5"/><circle class="y" cx="255.7" cy="126.5" r="4.5"/><circle class="y" cx="269.3" cy="126.5" r="3.6"/>
<circle class="y" cx="255.7" cy="192.5" r="3.6"/>
</g>
<use href="#DL" x="1276.7" y="371.8"/>

<!-- ===== 2019 ===== -->
<g transform="translate(121.7,634.3)" clip-path="url(#cp)">
<use href="#G" x="41.2"/><use href="#G" x="64"/><use href="#G" x="93"/><use href="#G" x="109.3"/><use href="#G" x="122"/><use href="#G" x="134.2"/><use href="#G" x="146.9"/><use href="#G" x="159.1"/><use href="#G" x="173"/><use href="#G" x="185.3"/><use href="#G" x="199.1"/><use href="#G" x="211.4"/><use href="#G" x="228.5"/><use href="#G" x="237.9"/><use href="#G" x="255"/><use href="#G" x="274.2"/><use href="#G" x="315"/><use href="#G" x="342.8"/>
<circle class="y" cx="109.3" cy="8.5" r="3.6"/><circle class="y" cx="122" cy="8.5" r="3.6"/><circle class="y" cx="134.2" cy="8.5" r="4.5"/><circle class="m" cx="146.9" cy="8.5" r="6"/><circle class="y" cx="159.1" cy="8.5" r="3.6"/><circle class="m" cx="173" cy="8.5" r="7"/><circle class="m" cx="185.3" cy="8.5" r="9"/><circle class="o" cx="199.1" cy="8.5" r="5"/><circle class="m" cx="211.4" cy="8.5" r="6"/><circle class="o" cx="228.5" cy="8.5" r="5"/><circle class="m" cx="237.9" cy="8.5" r="7"/>
<circle class="y" cx="93" cy="44.7" r="3.6"/><circle class="y" cx="109.3" cy="38.4" r="3.6"/><circle class="y" cx="122" cy="44.7" r="3.6"/><circle class="y" cx="134.2" cy="44.7" r="3.6"/><circle class="y" cx="146.9" cy="38.4" r="3.6"/><circle class="o" cx="146.9" cy="44.7" r="4.5"/><circle class="y" cx="159.1" cy="38.4" r="3.6"/><circle class="y" cx="159.1" cy="44.7" r="3.6"/>
<circle class="n" cx="168" cy="47" r="7"/><circle class="n" cx="206" cy="47" r="8"/>
<circle class="m" cx="173" cy="38.4" r="7"/><circle class="m" cx="185.3" cy="38.4" r="9"/><circle class="m" cx="199.1" cy="38.4" r="8"/><circle class="m" cx="211.4" cy="38.4" r="8"/><circle class="m" cx="228.5" cy="38.4" r="7"/><circle class="o" cx="237.9" cy="38.4" r="5"/><circle class="o" cx="237.9" cy="44.7" r="5"/><circle class="y" cx="255" cy="38.4" r="3.6"/><circle class="y" cx="255" cy="44.7" r="3.6"/><circle class="y" cx="274.2" cy="38.4" r="3.6"/>
<circle class="y" cx="109.3" cy="55.5" r="3.6"/><circle class="o" cx="146.9" cy="55.5" r="4"/><circle class="o" cx="159.1" cy="55.5" r="4"/>
<circle class="m" cx="131" cy="66.5" r="4"/><circle class="o" cx="139" cy="65" r="5"/><circle class="m" cx="150" cy="66" r="6"/><circle class="m" cx="163" cy="66.5" r="7"/><circle class="m" cx="173" cy="66.5" r="8"/><circle class="m" cx="185.3" cy="55.5" r="9"/><circle class="m" cx="185.3" cy="66.5" r="8"/><circle class="m" cx="199.1" cy="55.5" r="8"/><circle class="m" cx="199.1" cy="66.5" r="8"/><circle class="m" cx="211.4" cy="55.5" r="7"/><circle class="n" cx="211.4" cy="66" r="11"/><circle class="o" cx="228.5" cy="55.5" r="4"/><circle class="m" cx="228.5" cy="66.5" r="6.5"/><circle class="m" cx="237.9" cy="55.5" r="6"/><circle class="o" cx="237.9" cy="66.5" r="5"/><circle class="y" cx="255" cy="55.5" r="3.6"/>
<circle class="o" cx="173" cy="79.7" r="5"/><circle class="o" cx="185.3" cy="79.7" r="5"/><circle class="m" cx="199.1" cy="79.7" r="6.5"/><circle class="y" cx="211.4" cy="79.7" r="3.6"/><circle class="y" cx="237.9" cy="79.7" r="3.6"/>
<circle class="y" cx="109.3" cy="93.4" r="3.6"/><circle class="o" cx="159.1" cy="93.4" r="5"/><circle class="m" cx="173" cy="93.4" r="7"/><circle class="m" cx="185.3" cy="93.4" r="7"/><circle class="m" cx="199.1" cy="93.4" r="6.5"/><circle class="o" cx="211.4" cy="93.4" r="4.5"/><circle class="o" cx="228.5" cy="93.4" r="5"/><circle class="o" cx="237.9" cy="93.4" r="5.5"/>
<circle class="y" cx="159.1" cy="126.5" r="3.6"/><circle class="o" cx="173" cy="126.5" r="5"/><circle class="o" cx="185.3" cy="126.5" r="5.5"/><circle class="o" cx="199.1" cy="126.5" r="5"/><circle class="o" cx="211.4" cy="126.5" r="4.5"/><circle class="o" cx="228.5" cy="126.5" r="4.5"/><circle class="o" cx="237.9" cy="126.5" r="4.5"/>
<circle class="y" cx="185.3" cy="192.5" r="3.6"/><circle class="y" cx="199.1" cy="192.5" r="3.6"/><circle class="y" cx="211.4" cy="192.5" r="3.6"/><circle class="y" cx="237.9" cy="192.5" r="3.6"/>
</g>
<use href="#DL" x="121.7" y="634.3"/>

<!-- ===== 2020 ===== -->
<g transform="translate(506.7,634.3)" clip-path="url(#cp)">
<use href="#G" x="31"/><use href="#G" x="57"/><use href="#G" x="129"/><use href="#G" x="146"/><use href="#G" x="155.3"/><use href="#G" x="167"/><use href="#G" x="180"/><use href="#G" x="193.3"/><use href="#G" x="210.3"/><use href="#G" x="223"/><use href="#G" x="238"/><use href="#G" x="251"/><use href="#G" x="264"/><use href="#G" x="284"/><use href="#G" x="321.3"/><use href="#G" x="352"/>
<circle class="m" cx="129" cy="8.5" r="6.5"/><circle class="m" cx="143" cy="8.5" r="5.5"/><circle class="n" cx="155.3" cy="9" r="11"/><circle class="m" cx="167" cy="8.5" r="7"/><circle class="o" cx="180" cy="8.5" r="4"/><circle class="n" cx="193.3" cy="9" r="10"/><circle class="m" cx="210.3" cy="8.5" r="6"/><circle class="o" cx="223" cy="8.5" r="5"/><circle class="y" cx="238" cy="8.5" r="3.6"/><circle class="o" cx="251" cy="8.5" r="4"/>
<circle class="y" cx="129" cy="38.4" r="3.6"/><circle class="m" cx="129" cy="44.7" r="7"/><circle class="m" cx="146" cy="38.4" r="6"/><circle class="m" cx="155.3" cy="38.4" r="6"/><circle class="m" cx="146" cy="48" r="6"/><circle class="m" cx="155.3" cy="48" r="6"/><circle class="o" cx="167" cy="38.4" r="4.5"/><circle class="m" cx="167" cy="44.7" r="6"/><circle class="y" cx="180" cy="38.4" r="3.6"/><circle class="o" cx="180" cy="44.7" r="4.5"/><circle class="m" cx="193.3" cy="38.4" r="8"/><circle class="o" cx="210.3" cy="38.4" r="5.5"/><circle class="m" cx="210.3" cy="44.7" r="6"/><circle class="o" cx="223" cy="38.4" r="4.5"/><circle class="o" cx="223" cy="44.7" r="5"/><circle class="y" cx="238" cy="38.4" r="3.6"/><circle class="y" cx="238" cy="44.7" r="3.6"/><circle class="y" cx="251" cy="38.4" r="3.6"/><circle class="y" cx="251" cy="44.7" r="3.6"/>
<circle class="o" cx="129" cy="55.5" r="5.5"/><circle class="m" cx="129" cy="66.5" r="7"/><circle class="m" cx="146" cy="55.5" r="6"/><circle class="m" cx="146" cy="66.5" r="6.5"/><circle class="m" cx="155.3" cy="55.5" r="7"/><circle class="m" cx="155.3" cy="66.5" r="9"/><circle class="m" cx="167" cy="55.5" r="6.5"/><circle class="m" cx="167" cy="66.5" r="6"/><circle class="y" cx="180" cy="55.5" r="3.6"/><circle class="y" cx="180" cy="61" r="3.6"/><circle class="o" cx="180" cy="66.5" r="5"/><circle class="m" cx="193.3" cy="55.5" r="8"/><circle class="n" cx="193.3" cy="66.5" r="10"/><circle class="o" cx="210.3" cy="55.5" r="5"/><circle class="g" cx="210.3" cy="61" r="3.7"/><circle class="o" cx="210.3" cy="66.5" r="4.5"/><circle class="m" cx="223" cy="55.5" r="5.5"/><circle class="m" cx="223" cy="66.5" r="6"/><circle class="o" cx="238" cy="55.5" r="4"/><circle class="y" cx="238" cy="61" r="3.6"/><circle class="y" cx="238" cy="66.5" r="3.6"/><circle class="y" cx="251" cy="55.5" r="3.6"/><circle class="y" cx="251" cy="61" r="3.6"/><circle class="y" cx="251" cy="66.5" r="3.6"/>
<circle class="y" cx="129" cy="79.7" r="3.6"/><circle class="o" cx="155.3" cy="79.7" r="4"/><circle class="o" cx="167" cy="79.7" r="5"/><circle class="y" cx="180" cy="79.7" r="3.6"/><circle class="o" cx="193.3" cy="79.7" r="5"/><circle class="y" cx="238" cy="79.7" r="3.6"/><circle class="y" cx="251" cy="79.7" r="3.6"/>
<circle class="o" cx="129" cy="93.4" r="4"/><circle class="o" cx="146" cy="93.4" r="5"/><circle class="m" cx="155.3" cy="93.4" r="5.5"/><circle class="o" cx="167" cy="93.4" r="4"/><circle class="y" cx="180" cy="93.4" r="3.6"/><circle class="m" cx="193.3" cy="93.4" r="5.5"/><circle class="o" cx="210.3" cy="93.4" r="4"/><circle class="y" cx="223" cy="93.4" r="3.6"/>
<circle class="y" cx="129" cy="126.5" r="3.6"/><circle class="o" cx="146" cy="126.5" r="4"/><circle class="o" cx="155.3" cy="126.5" r="5"/><circle class="y" cx="167" cy="126.5" r="3.6"/><circle class="m" cx="193.3" cy="126.5" r="5.5"/><circle class="y" cx="210.3" cy="126.5" r="3.6"/><circle class="y" cx="223" cy="126.5" r="3.6"/><circle class="y" cx="251" cy="126.5" r="3.6"/>
<circle class="y" cx="167" cy="192.5" r="3.6"/>
</g>
<use href="#DL" x="506.7" y="634.3"/>

<!-- ===== 2021 ===== -->
<g transform="translate(891.7,634.3)" clip-path="url(#cp)">
<use href="#G" x="41.4"/><use href="#G" x="69.6"/><use href="#G" x="94.2"/><use href="#G" x="106.8"/><use href="#G" x="118.3"/><use href="#G" x="132.4"/><use href="#G" x="150.2"/><use href="#G" x="163.3"/><use href="#G" x="178.4"/><use href="#G" x="193.1"/><use href="#G" x="204.6"/><use href="#G" x="215.1"/><use href="#G" x="231.2"/><use href="#G" x="245.4"/><use href="#G" x="256.9"/><use href="#G" x="269.4"/><use href="#G" x="282"/><use href="#G" x="308.1"/>
<circle class="y" cx="106.8" cy="8.5" r="3.6"/><circle class="o" cx="118.3" cy="8.5" r="4.5"/><circle class="y" cx="150.2" cy="8.5" r="3.6"/><circle class="m" cx="163.3" cy="8.5" r="6.5"/><circle class="m" cx="193.1" cy="8.5" r="7"/><circle class="n" cx="177" cy="11" r="12"/><circle class="o" cx="215.1" cy="8.5" r="6"/><circle class="o" cx="231.2" cy="8.5" r="5"/><circle class="m" cx="245.4" cy="8.5" r="5.5"/><circle class="o" cx="256.9" cy="8.5" r="4.5"/><circle class="o" cx="269.4" cy="8.5" r="4.5"/><circle class="y" cx="282" cy="8.5" r="3.6"/>
<circle class="y" cx="94.2" cy="44.7" r="3.6"/><circle class="y" cx="106.8" cy="44.7" r="3.6"/><circle class="y" cx="132.4" cy="44.7" r="3.6"/><circle class="o" cx="150.2" cy="38.4" r="4.5"/><circle class="y" cx="150.2" cy="44.7" r="3.6"/><circle class="o" cx="163.3" cy="38.4" r="4.5"/><circle class="m" cx="163.3" cy="44.7" r="5"/>
<circle class="m" cx="193.1" cy="38.4" r="7"/><circle class="m" cx="204.6" cy="40" r="8"/><circle class="n" cx="177.5" cy="42" r="12"/><circle class="y" cx="178.4" cy="38.4" r="4"/><circle class="n" cx="215.1" cy="38.4" r="10"/><circle class="n" cx="231.2" cy="38.4" r="10"/><circle class="m" cx="245.4" cy="40" r="7"/><circle class="o" cx="256.9" cy="38.4" r="4.5"/><circle class="o" cx="256.9" cy="44.7" r="4.5"/><circle class="y" cx="269.4" cy="38.4" r="3.6"/><circle class="y" cx="269.4" cy="44.7" r="3.6"/><circle class="y" cx="282" cy="38.4" r="3.6"/><circle class="y" cx="282" cy="44.7" r="3.6"/>
<circle class="o" cx="150.2" cy="55.5" r="4.5"/><circle class="y" cx="150.2" cy="65" r="3.6"/><circle class="o" cx="163.3" cy="55.5" r="4.5"/><circle class="y" cx="163.3" cy="65" r="3.6"/>
<circle class="m" cx="204.6" cy="55.5" r="8"/><circle class="n" cx="190" cy="64" r="12"/><circle class="g" cx="178.4" cy="60.7" r="3.7"/><circle class="m" cx="215.1" cy="65" r="9"/><circle class="n" cx="231.2" cy="55.5" r="8"/><circle class="m" cx="231.2" cy="65" r="8"/><circle class="m" cx="245.4" cy="55.5" r="8"/><circle class="m" cx="245.4" cy="65" r="8"/><circle class="o" cx="256.9" cy="55.5" r="4.5"/><circle class="o" cx="256.9" cy="65" r="4.5"/><circle class="y" cx="269.4" cy="55.5" r="3.6"/><circle class="y" cx="269.4" cy="60.7" r="3.6"/><circle class="y" cx="282" cy="55.5" r="3.6"/>
<circle class="y" cx="150.2" cy="79.4" r="3.6"/><circle class="m" cx="204.6" cy="79" r="9"/><circle class="o" cx="231.2" cy="79.4" r="4.5"/><circle class="o" cx="245.4" cy="79.4" r="4.5"/><circle class="o" cx="256.9" cy="79.4" r="4.5"/><circle class="y" cx="269.4" cy="79.4" r="3.6"/>
<circle class="m" cx="193.1" cy="93.4" r="7"/><circle class="m" cx="215.1" cy="93.4" r="7"/><circle class="n" cx="203.5" cy="95.5" r="9"/><circle class="m" cx="231.2" cy="93.4" r="5.5"/><circle class="m" cx="245.4" cy="93.4" r="5"/><circle class="y" cx="256.9" cy="93.4" r="3.6"/>
<circle class="m" cx="193.1" cy="126.5" r="6"/><circle class="m" cx="204.6" cy="126.5" r="7"/><circle class="o" cx="215.1" cy="126.5" r="4.5"/><circle class="o" cx="231.2" cy="126.5" r="4.5"/><circle class="o" cx="245.4" cy="126.5" r="5"/>
<circle class="o" cx="204.6" cy="192.5" r="4"/><circle class="y" cx="215.1" cy="192.5" r="3.6"/><circle class="y" cx="231.2" cy="192.5" r="3.6"/><circle class="y" cx="245.4" cy="192.5" r="3.6"/>
</g>
<use href="#DL" x="891.7" y="634.3"/>

<!-- ===== 2022 ===== -->
<g transform="translate(1276.7,634.3)" clip-path="url(#cp)">
<use href="#G" x="24.1"/><use href="#G" x="49.7"/><use href="#G" x="82.1"/><use href="#G" x="96.2"/><use href="#G" x="111.4"/><use href="#G" x="125.5"/><use href="#G" x="138.6"/><use href="#G" x="160"/><use href="#G" x="171"/><use href="#G" x="179.4"/><use href="#G" x="192.5"/><use href="#G" x="205"/><use href="#G" x="218.6"/><use href="#G" x="232.2"/><use href="#G" x="244.3"/><use href="#G" x="257.9"/><use href="#G" x="275.6"/><use href="#G" x="295"/><use href="#G" x="313.3"/><use href="#G" x="338.4"/>
<circle class="y" cx="96.2" cy="8.5" r="3.6"/><circle class="o" cx="111.4" cy="8.5" r="4.5"/><circle class="y" cx="125.5" cy="8.5" r="3.6"/><circle class="o" cx="160" cy="8.5" r="4.5"/><circle class="m" cx="171" cy="8.5" r="6"/><circle class="m" cx="179.4" cy="8.5" r="6"/><circle class="m" cx="192.5" cy="8.5" r="7"/><circle class="m" cx="205" cy="8.5" r="6.5"/><circle class="m" cx="218.6" cy="8.5" r="6.5"/><circle class="n" cx="232.2" cy="10" r="11"/><circle class="o" cx="244.3" cy="8.5" r="4.5"/><circle class="o" cx="257.9" cy="8.5" r="5"/><circle class="y" cx="275.6" cy="8.5" r="3.6"/>
<circle class="y" cx="96.2" cy="38.4" r="3.6"/><circle class="y" cx="96.2" cy="44.7" r="3.6"/><circle class="y" cx="111.4" cy="44.7" r="3.6"/><circle class="y" cx="125.5" cy="38.4" r="3.6"/><circle class="y" cx="138.6" cy="38.4" r="3.6"/><circle class="o" cx="138.6" cy="44.7" r="4"/><circle class="y" cx="160" cy="38.4" r="3.6"/><circle class="o" cx="160" cy="44.7" r="4"/><circle class="y" cx="171" cy="38.4" r="3.6"/><circle class="y" cx="171" cy="44.7" r="3.6"/><circle class="o" cx="179.4" cy="38.4" r="4"/><circle class="o" cx="179.4" cy="44.7" r="4"/><circle class="y" cx="192.5" cy="38.4" r="3.6"/><circle class="o" cx="192.5" cy="44.7" r="4"/><circle class="o" cx="205" cy="38.4" r="5"/><circle class="m" cx="218.6" cy="40" r="8"/><circle class="n" cx="232.2" cy="42" r="7"/><circle class="o" cx="232.2" cy="38.4" r="4.5"/><circle class="o" cx="244.3" cy="38.4" r="4"/><circle class="o" cx="244.3" cy="44.7" r="4"/><circle class="o" cx="257.9" cy="38.4" r="4"/><circle class="o" cx="257.9" cy="44.7" r="4"/><circle class="y" cx="295" cy="44.7" r="3.6"/>
<circle class="y" cx="96.2" cy="55.5" r="3.6"/><circle class="y" cx="96.2" cy="61" r="3.6"/><circle class="y" cx="111.4" cy="55.5" r="3.6"/><circle class="y" cx="125.5" cy="55.5" r="3.6"/><circle class="y" cx="125.5" cy="61" r="3.6"/><circle class="y" cx="125.5" cy="65" r="3.6"/><circle class="y" cx="138.6" cy="55.5" r="3.6"/><circle class="y" cx="138.6" cy="61" r="3.6"/><circle class="y" cx="138.6" cy="65" r="3.6"/><circle class="y" cx="160" cy="55.5" r="3.6"/><circle class="y" cx="160" cy="65" r="3.6"/><circle class="o" cx="171" cy="61" r="4"/><circle class="m" cx="179.4" cy="55.5" r="5.5"/>
<circle class="m" cx="205" cy="55.5" r="6"/><circle class="m" cx="205" cy="65" r="6"/><circle class="m" cx="218.6" cy="55.5" r="7"/><circle class="m" cx="218.6" cy="65" r="8"/><circle class="m" cx="232.2" cy="55.5" r="7"/><circle class="m" cx="232.2" cy="65" r="8"/><circle class="m" cx="244.3" cy="55.5" r="6"/><circle class="m" cx="244.3" cy="65" r="7"/><circle class="o" cx="257.9" cy="55.5" r="4"/><circle class="m" cx="257.9" cy="65" r="5.5"/>
<circle class="n" cx="190" cy="65" r="9"/><circle cx="190" cy="63" r="4.5" fill="#D3D3D3" stroke="#9a9a9a" stroke-width=".8"/>
<circle class="y" cx="82.1" cy="79.4" r="3.6"/><circle class="y" cx="96.2" cy="79.4" r="3.6"/><circle class="y" cx="111.4" cy="79.4" r="3.6"/><circle class="y" cx="125.5" cy="79.4" r="3.6"/><circle class="o" cx="218.6" cy="79.4" r="4"/><circle class="y" cx="257.9" cy="79.4" r="3.6"/>
<circle class="y" cx="82.1" cy="93.4" r="3.6"/><circle class="y" cx="96.2" cy="93.4" r="3.6"/><circle class="y" cx="138.6" cy="93.4" r="3.6"/><circle class="y" cx="179.4" cy="93.4" r="3.6"/><circle class="y" cx="192.5" cy="93.4" r="3.6"/><circle class="y" cx="205" cy="93.4" r="3.6"/><circle class="m" cx="218.6" cy="93.4" r="6.5"/><circle class="o" cx="232.2" cy="93.4" r="5"/><circle class="y" cx="244.3" cy="93.4" r="3.6"/><circle class="o" cx="257.9" cy="93.4" r="5"/>
<circle class="y" cx="111.4" cy="126.5" r="3.6"/><circle class="y" cx="138.6" cy="126.5" r="3.6"/><circle class="y" cx="171" cy="126.5" r="3.6"/><circle class="y" cx="179.4" cy="126.5" r="3.6"/><circle class="y" cx="192.5" cy="126.5" r="3.6"/><circle class="y" cx="205" cy="126.5" r="3.6"/><circle class="y" cx="218.6" cy="126.5" r="3.6"/><circle class="y" cx="232.2" cy="126.5" r="3.6"/><circle class="y" cx="257.9" cy="126.5" r="3.6"/>
<circle class="y" cx="257.9" cy="192.5" r="3.6"/>
</g>
<use href="#DL" x="1276.7" y="634.3"/>

<!-- y axis ticks -->
<g class="tk">
<line x1="114.5" x2="121.7" y1="132.7" y2="132.7"/><line x1="114.5" x2="121.7" y1="169.7" y2="169.7"/><line x1="114.5" x2="121.7" y1="206.7" y2="206.7"/><line x1="114.5" x2="121.7" y1="243.7" y2="243.7"/><line x1="114.5" x2="121.7" y1="280.7" y2="280.7"/>
<line x1="114.5" x2="121.7" y1="395.2" y2="395.2"/><line x1="114.5" x2="121.7" y1="432.2" y2="432.2"/><line x1="114.5" x2="121.7" y1="469.2" y2="469.2"/><line x1="114.5" x2="121.7" y1="506.2" y2="506.2"/><line x1="114.5" x2="121.7" y1="543.2" y2="543.2"/>
<line x1="114.5" x2="121.7" y1="657.7" y2="657.7"/><line x1="114.5" x2="121.7" y1="694.7" y2="694.7"/><line x1="114.5" x2="121.7" y1="731.7" y2="731.7"/><line x1="114.5" x2="121.7" y1="768.7" y2="768.7"/><line x1="114.5" x2="121.7" y1="805.7" y2="805.7"/>
</g>
<g class="tl" text-anchor="end">
<text x="107" y="140.7">28.00</text><text x="107" y="177.7">27.95</text><text x="107" y="214.7">27.90</text><text x="107" y="251.7">27.85</text><text x="107" y="288.7">27.80</text>
<text x="107" y="403.2">28.00</text><text x="107" y="440.2">27.95</text><text x="107" y="477.2">27.90</text><text x="107" y="514.2">27.85</text><text x="107" y="551.2">27.80</text>
<text x="107" y="665.7">28.00</text><text x="107" y="702.7">27.95</text><text x="107" y="739.7">27.90</text><text x="107" y="776.7">27.85</text><text x="107" y="813.7">27.80</text>
</g>

<!-- x axis ticks -->
<g class="tk">
<line x1="137.2" x2="137.2" y1="836" y2="843.2"/><line x1="229.9" x2="229.9" y1="836" y2="843.2"/><line x1="322.7" x2="322.7" y1="836" y2="843.2"/><line x1="415.4" x2="415.4" y1="836" y2="843.2"/>
<line x1="522.2" x2="522.2" y1="836" y2="843.2"/><line x1="614.9" x2="614.9" y1="836" y2="843.2"/><line x1="707.7" x2="707.7" y1="836" y2="843.2"/><line x1="800.4" x2="800.4" y1="836" y2="843.2"/>
<line x1="907.2" x2="907.2" y1="836" y2="843.2"/><line x1="999.9" x2="999.9" y1="836" y2="843.2"/><line x1="1092.7" x2="1092.7" y1="836" y2="843.2"/><line x1="1185.4" x2="1185.4" y1="836" y2="843.2"/>
<line x1="1292.2" x2="1292.2" y1="836" y2="843.2"/><line x1="1384.9" x2="1384.9" y1="836" y2="843.2"/><line x1="1477.7" x2="1477.7" y1="836" y2="843.2"/><line x1="1570.4" x2="1570.4" y1="836" y2="843.2"/>
</g>
<g class="tl" text-anchor="middle">
<text x="137.2" y="868.5">0</text><text x="229.9" y="868.5">100</text><text x="322.7" y="868.5">200</text><text x="415.4" y="868.5">300</text>
<text x="522.2" y="868.5">0</text><text x="614.9" y="868.5">100</text><text x="707.7" y="868.5">200</text><text x="800.4" y="868.5">300</text>
<text x="907.2" y="868.5">0</text><text x="999.9" y="868.5">100</text><text x="1092.7" y="868.5">200</text><text x="1185.4" y="868.5">300</text>
<text x="1292.2" y="868.5">0</text><text x="1384.9" y="868.5">100</text><text x="1477.7" y="868.5">200</text><text x="1570.4" y="868.5">300</text>
</g>

<!-- axis titles -->
<text x="884.5" y="902" font-size="28.5" text-anchor="middle" fill="#000">Day of Year</text>
<text transform="translate(38,472.7) rotate(-90)" font-size="28.5" text-anchor="middle" fill="#000">Latitude</text>
<text x="1647.3" y="940.7" font-size="22.8" text-anchor="end" fill="#000">Data from FWC routine monitoring stations, dotted lines are bridge locations</text>

<!-- legend -->
<circle class="g" cx="1716" cy="245" r="3.4"/>
<text x="1755" y="253" font-size="22.8" fill="#000">No cells</text>
<text x="1694" y="308.3" font-size="28.5" fill="#000">Bloom intensity</text>
<circle class="y" cx="1716" cy="350.7" r="9.3"/><text x="1755" y="359.3" font-size="22.8" fill="#000">No bloom</text>
<circle class="o" cx="1716" cy="396.7" r="9.3"/><text x="1755" y="405.3" font-size="22.8" fill="#000">Low</text>
<circle class="m" cx="1716" cy="442.3" r="9.3"/><text x="1755" y="450.9" font-size="22.8" fill="#000">Medium</text>
<circle class="n" cx="1716" cy="488.3" r="9.3"/><text x="1755" y="496.9" font-size="22.8" fill="#000">High</text>
<text x="1694" y="550.7" font-size="28.5" fill="#000">Cells/L</text>
<circle cx="1716" cy="593.3" r="10.2" fill="none" stroke="#a6a6a6" stroke-width="1"/><text x="1755" y="601.9" font-size="22.8" fill="#000">1e6</text>
<circle cx="1716" cy="639.3" r="12.6" fill="none" stroke="#a6a6a6" stroke-width="1"/><text x="1755" y="647.9" font-size="22.8" fill="#000">2e6</text>
<circle cx="1716" cy="685" r="14.7" fill="none" stroke="#a6a6a6" stroke-width="1"/><text x="1755" y="693.6" font-size="22.8" fill="#000">&gt; 3e6</text>
</svg>
</body></html>
